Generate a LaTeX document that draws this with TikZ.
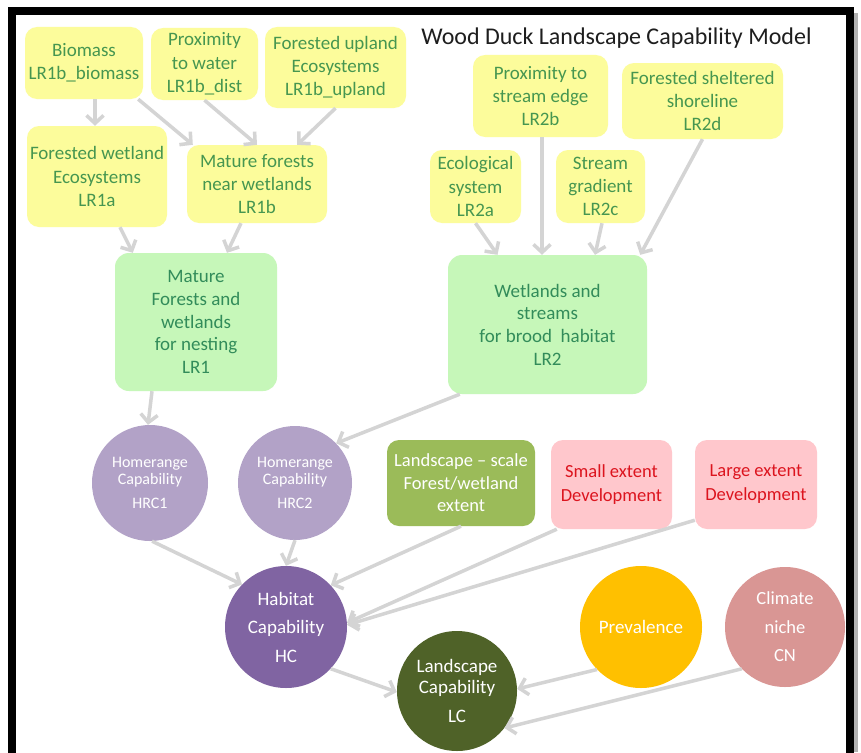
\documentclass[tikz,border=0pt]{standalone}
\usepackage{fontspec}
\setmainfont{Carlito}
\usetikzlibrary{arrows.meta,calc}
\definecolor{yfill}{RGB}{252,252,155}
\definecolor{ytext}{RGB}{70,150,80}
\definecolor{gfill}{RGB}{198,247,185}
\definecolor{gtext}{RGB}{50,140,90}
\definecolor{pfill}{RGB}{255,199,204}
\definecolor{ptext}{RGB}{220,20,30}
\definecolor{ofill}{RGB}{155,187,89}
\definecolor{hrcfill}{RGB}{178,162,199}
\definecolor{hcfill}{RGB}{128,100,162}
\definecolor{lcfill}{RGB}{79,98,40}
\definecolor{prevfill}{RGB}{255,192,0}
\definecolor{cnfill}{RGB}{217,150,148}
\definecolor{arrgray}{RGB}{212,212,212}
\tikzset{
  ybox/.style={rectangle, rounded corners=12pt, fill=yfill, text=ytext, align=center, inner sep=0pt, font=\fontsize{19}{23.3}\selectfont},
  gbox/.style={rectangle, rounded corners=14pt, fill=gfill, text=gtext, align=center, inner sep=0pt, font=\fontsize{19}{22.7}\selectfont},
  pbox/.style={rectangle, rounded corners=12pt, fill=pfill, text=ptext, align=center, inner sep=0pt, font=\fontsize{18.5}{24}\selectfont},
  obox/.style={rectangle, rounded corners=12pt, fill=ofill, text=white, align=center, inner sep=0pt, font=\fontsize{18.5}{22.5}\selectfont},
  circ/.style={circle, inner sep=0pt, align=center, text=white},
  arr/.style={draw=arrgray, line width=3.5pt, -{Straight Barb[length=8pt,width=17pt]}}
}
\begin{document}
\begin{tikzpicture}[x=1pt,y=-1pt]
\useasboundingbox (0,0) rectangle (861,752);
\fill[white] (0,0) rectangle (861,752);
% frame
\fill[gray!60] (854,13) rectangle (858,752);
\draw[line width=8pt] (12,760) -- (12,11) -- (850,11) -- (850,760);
% title
\node[font=\fontsize{24}{28}\selectfont, text={rgb,255:red,30;green,30;blue,30}, inner sep=0pt] (title) at (616.5,38) {Wood Duck Landscape Capability Model};
% yellow boxes
\node[ybox, minimum width=118pt, minimum height=72pt] (biomass) at (84,63) {Biomass\\LR1b\_biomass};
\node[ybox, minimum width=107pt, minimum height=72pt] (proxw) at (204.5,64) {Proximity\\to water\\LR1b\_dist};
\node[ybox, minimum width=141pt, minimum height=81pt] (upland) at (335.5,67.5) {Forested upland\\Ecosystems\\LR1b\_upland};
\node[ybox, minimum width=140pt, minimum height=101pt] (fwet) at (97,176.5) {Forested wetland\\Ecosystems\\LR1a};
\node[ybox, minimum width=140pt, minimum height=78pt] (lronebb) at (257,184) {Mature forests\\near wetlands\\LR1b};
\node[ybox, minimum width=135pt, minimum height=82pt] (lrtwob) at (540.5,96) {Proximity to\\stream edge\\LR2b};
\node[ybox, minimum width=161pt, minimum height=76pt] (lrtwod) at (702.5,101) {Forested sheltered\\shoreline\\LR2d};
\node[ybox, minimum width=91pt, minimum height=73pt] (lrtwoa) at (475.5,186.5) {Ecological\\system\\LR2a};
\node[ybox, minimum width=89pt, minimum height=73pt] (lrtwoc) at (600.5,186.5) {Stream\\gradient\\LR2c};
% green boxes
\node[gbox, minimum width=162pt, minimum height=138pt] (lrone) at (196,322) {Mature\\Forests and\\wetlands\\for nesting\\LR1};
\node[gbox, minimum width=199pt, minimum height=139pt] (lrtwo) at (547.5,324.5) {Wetlands and\\streams\\for brood~ habitat\\LR2};
% middle row
\node[obox, minimum width=148pt, minimum height=86pt] (land) at (461,483) {Landscape -- scale\\Forest/wetland\\extent};
\node[pbox, minimum width=121pt, minimum height=89pt] (small) at (611.5,484.5) {Small extent\\Development};
\node[pbox, minimum width=122pt, minimum height=89pt] (large) at (756,484.5) {Large extent\\Development};
% circles
\node[circ, fill=hrcfill, minimum size=116pt, font=\fontsize{16}{16.5}\selectfont] (hrcone) at (150,483) {Homerange\\Capability\\[8pt]HRC1};
\node[circ, fill=hrcfill, minimum size=114pt, font=\fontsize{16}{16.5}\selectfont] (hrctwo) at (295,483) {Homerange\\Capability\\[8pt]HRC2};
\node[circ, fill=hcfill, minimum size=122pt, font=\fontsize{19}{28.5}\selectfont] (hc) at (286,627) {Habitat\\Capability\\HC};
\node[circ, fill=lcfill, minimum size=120pt, font=\fontsize{19}{20.5}\selectfont] (lc) at (457,691) {Landscape\\Capability\\[9pt]LC};
\node[circ, fill=prevfill, minimum size=122pt, font=\fontsize{19}{23}\selectfont] (prev) at (641,627) {Prevalence};
\node[circ, fill=cnfill, minimum size=120pt, font=\fontsize{18.5}{28.5}\selectfont] (cn) at (785,627) {Climate\\niche\\CN};
% arrows
\draw[arr] ([xshift=11pt]biomass.south) -- ([xshift=-2pt]fwet.north);
\draw[arr] ([xshift=-5pt]biomass.south east) -- ([xshift=6pt]lronebb.north west);
\draw[arr] (proxw.south) -- (lronebb.north);
\draw[arr] (upland.south) -- ([xshift=-30pt]lronebb.north east);
\draw[arr] ([xshift=23pt]fwet.south) -- ([xshift=18pt]lrone.north west);
\draw[arr] ([xshift=-16pt]lronebb.south) -- ([xshift=31pt]lrone.north);
\draw[arr] (lrtwoa.south) -- ([xshift=-50pt]lrtwo.north);
\draw[arr] ([xshift=1.5pt]lrtwob.south) -- ([xshift=-5.5pt]lrtwo.north);
\draw[arr] ([xshift=1.5pt]lrtwoc.south) -- ([xshift=47.5pt]lrtwo.north);
\draw[arr] (lrtwod.south) -- ([xshift=-7pt]lrtwo.north east);
\draw[arr] ([xshift=-44pt]lrone.south) -- (hrcone.92);
\draw[arr] ([xshift=12pt]lrtwo.south west) -- (hrctwo.44);
\draw[arr] (hrcone.-88) -- (hc.136);
\draw[arr] (hrctwo.south) -- (hc.north);
\draw[arr] (land.south) -- (hc.43);
\draw[arr] ([xshift=6pt]small.south west) -- (hc.4);
\draw[arr] ([yshift=9pt]large.south west) -- (hc.2);
\draw[arr] (hc.-43) -- (lc.-179);
\draw[arr] (prev.224) -- (lc.2);
\draw[arr] (cn.224) -- (lc.-38);
\end{tikzpicture}
\end{document}
